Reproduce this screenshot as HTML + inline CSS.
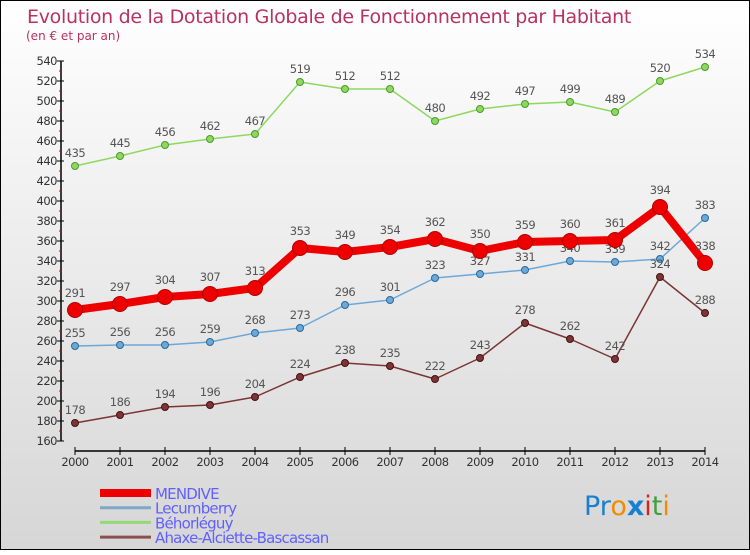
<!DOCTYPE html>
<html><head><meta charset="utf-8"><style>
html,body{margin:0;padding:0}
body{width:750px;height:550px;overflow:hidden}
svg text{font-family:"DejaVu Sans","Liberation Sans",sans-serif}
</style></head><body>
<svg id="chart" width="750" height="550" xmlns="http://www.w3.org/2000/svg">
<defs><linearGradient id="bg" x1="0" y1="0" x2="0" y2="1"><stop offset="0" stop-color="#ffffff"/><stop offset="1" stop-color="#d6d6d6"/></linearGradient></defs>
<rect x="0.5" y="0.5" width="749" height="549" fill="url(#bg)" stroke="#000"/>
<text x="27" y="23" font-size="19" fill="#b8325e" letter-spacing="-0.3">Evolution de la Dotation Globale de Fonctionnement par Habitant</text>
<text x="26" y="40" font-size="12" fill="#b8325e">(en € et par an)</text>
<g id="axes"></g>
<g id="series"></g>
<g id="legend"></g>
<text x="584" y="515" font-size="27" font-family="Liberation Sans,sans-serif"><tspan fill="#1a7fd0">Pr</tspan><tspan fill="#f08c00">o</tspan><tspan fill="#1a7fd0" font-weight="bold">x</tspan><tspan fill="#e02020">i</tspan><tspan fill="#40a040">t</tspan><tspan fill="#f08c00">i</tspan></text>
</svg>
<script>
const years=[2000,2001,2002,2003,2004,2005,2006,2007,2008,2009,2010,2011,2012,2013,2014];
const mendive=[291,297,304,307,313,353,349,354,362,350,359,360,361,394,338];
const lecumberry=[255,256,256,259,268,273,296,301,323,327,331,340,339,342,383];
const behorleguy=[435,445,456,462,467,519,512,512,480,492,497,499,489,520,534];
const ahaxe=[178,186,194,196,204,224,238,235,222,243,278,262,242,324,288];
const yTicks=[160,180,200,220,240,260,280,300,320,340,360,380,400,420,440,460,480,500,520,540];
const NS='http://www.w3.org/2000/svg';
function X(i){return 75+i*45;}
function Y(v){return 61+(540-v)*1.0;}
function mk(tag,attrs,parent){const e=document.createElementNS(NS,tag);for(const k in attrs)e.setAttribute(k,attrs[k]);parent.appendChild(e);return e;}
const axes=document.getElementById('axes');
let yl=mk('line',{x1:61,y1:Y(160),x2:61,y2:Y(540),stroke:'#000','stroke-width':1.5},axes);


yTicks.forEach(v=>{
  let t=mk('line',{x1:57,y1:Y(v),x2:64,y2:Y(v),stroke:'#000'},axes);
  
  
  if(v<540){let m=mk('line',{x1:59,y1:Y(v+10),x2:62,y2:Y(v+10),stroke:'#e00000'},axes);
  
  }
  let l=mk('text',{x:57,y:Y(v)+4,'font-size':11.5,fill:'#333','text-anchor':'end','letter-spacing':'-0.5'},axes);
  l.textContent=v;
  
  
});
let xl=mk('line',{x1:X(0),y1:451,x2:X(14),y2:451,stroke:'#000','stroke-width':1.5},axes);


years.forEach((y,i)=>{
  let t=mk('line',{x1:X(i),y1:447,x2:X(i),y2:455,stroke:'#000'},axes);
  
  
  let l=mk('text',{x:X(i),y:466,'font-size':11.5,fill:'#333','text-anchor':'middle','letter-spacing':'-0.5'},axes);
  l.textContent=y;
  
  
});
const ser=document.getElementById('series');
function draw(vals,name,color,dark,w,r,off){
  const g=mk('g',{},ser);
  
  
  const pts=vals.map((v,i)=>X(i)+','+Y(v)).join(' ');
  let pl=mk('polyline',{points:pts,fill:'none',stroke:color,'stroke-width':w,'stroke-linejoin':'round'},g);
  
  
  vals.forEach((v,i)=>{
    let c=mk('circle',{cx:X(i),cy:Y(v),r:r,fill:color,stroke:dark,'stroke-width':1},g);
    
    
    let t=mk('text',{x:X(i),y:Y(v)-off,'font-size':11.5,fill:'#555','text-anchor':'middle','letter-spacing':'-0.5'},g);
    t.textContent=v;
    
    
  });
}
draw(behorleguy,'behorleguy','#8ed860','#4a9a30',1.5,3.5,9);
draw(lecumberry,'lecumberry','#6ca8d8','#2a6a9a',1.5,3.5,9);
draw(ahaxe,'ahaxe','#7a3535','#4a1010',1.5,3.5,9);
draw(mendive,'mendive','#ee0000','#b00000',8,7.5,13);
const lg=document.getElementById('legend');
const items=[['MENDIVE','#ee0000',8],['Lecumberry','#7fa8c8',3],['Béhorléguy','#95d878',3],['Ahaxe-Alciette-Bascassan','#8a5050',3]];
items.forEach((it,i)=>{
  const y=493+i*14.7;
  let l=mk('line',{x1:100,y1:y,x2:151,y2:y,stroke:it[1],'stroke-width':it[2]},lg);
  
  
  let t=mk('text',{x:155,y:y+6,'font-size':15,fill:'#6060ff','letter-spacing':'-0.8'},lg);
  t.textContent=it[0];
  
  
});
</script>
</body></html>
